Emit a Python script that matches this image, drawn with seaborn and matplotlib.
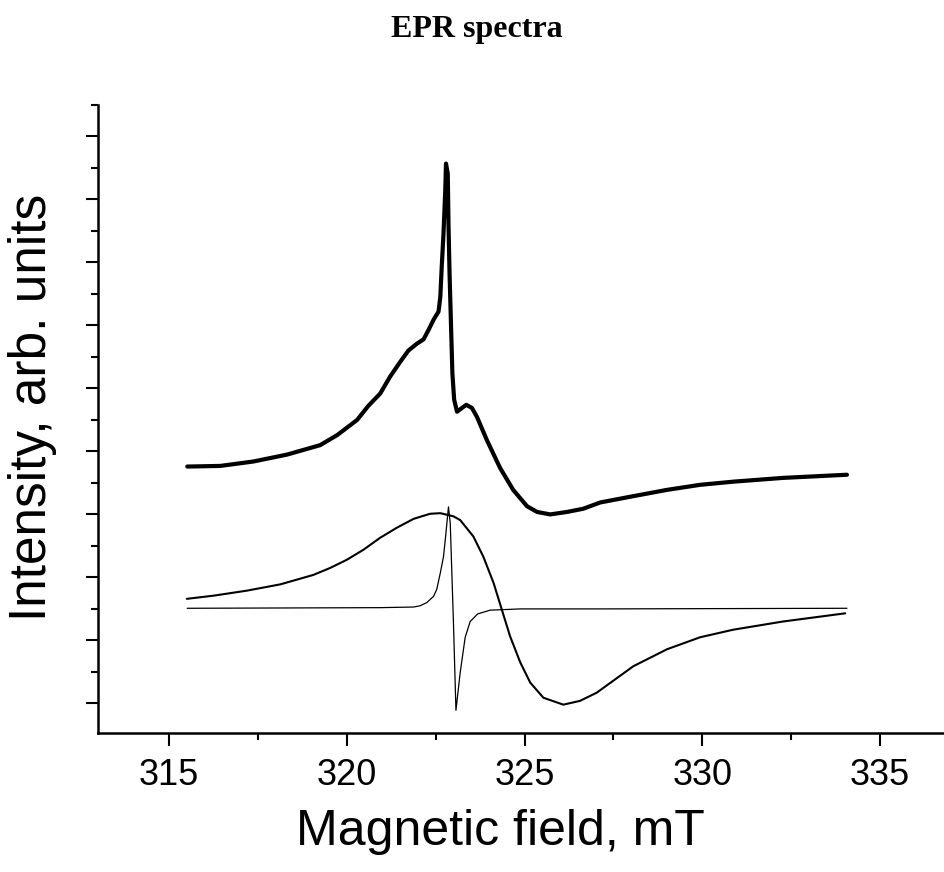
import numpy as np
import pandas as pd
import matplotlib
matplotlib.use("Agg")
import matplotlib.pyplot as plt
from matplotlib.ticker import MultipleLocator
import seaborn as sns

# ========================
# Data (field in mT, intensity in arb. units)
# ========================
# measured spectrum (thick top trace)
exp_field = [315.51, 316.44, 317.37, 318.32, 319.25, 319.73, 320.29, 320.60, 320.94,
             321.22, 321.50, 321.73, 321.97, 322.16, 322.30, 322.44, 322.58, 322.63,
             322.67, 322.72, 322.77, 322.79, 322.84, 322.86, 322.89, 322.93, 322.97,
             323.02, 323.10, 323.19, 323.36, 323.52, 323.66, 323.94, 324.31, 324.68,
             325.07, 325.35, 325.72, 326.20, 326.65, 327.13, 328.06, 329.01, 329.94,
             330.87, 332.27, 334.07]
exp_signal = [3.76, 3.77, 3.84, 3.95, 4.10, 4.26, 4.50, 4.72, 4.92,
              5.19, 5.42, 5.60, 5.71, 5.78, 5.93, 6.09, 6.22, 6.45,
              6.93, 7.46, 8.15, 8.57, 8.41, 7.62, 6.83, 6.03, 5.24,
              4.82, 4.63, 4.67, 4.74, 4.69, 4.55, 4.18, 3.74, 3.39,
              3.13, 3.04, 3.00, 3.04, 3.09, 3.19, 3.29, 3.39, 3.47,
              3.52, 3.58, 3.63]

# broad component
broad_field = [315.50, 316.25, 317.19, 318.13, 319.06, 319.53, 320.00, 320.47, 320.94,
               321.41, 321.88, 322.34, 322.63, 323.00, 323.19, 323.56, 323.84, 324.13,
               324.36, 324.59, 324.88, 325.16, 325.53, 326.09, 326.56, 327.03, 328.06,
               329.01, 329.94, 330.87, 332.27, 334.02]
broad_signal = [1.66, 1.71, 1.79, 1.89, 2.04, 2.15, 2.28, 2.44, 2.63,
                2.79, 2.93, 3.01, 3.02, 2.97, 2.91, 2.65, 2.33, 1.91,
                1.49, 1.07, 0.65, 0.33, 0.09, -0.02, 0.04, 0.17, 0.59,
                0.86, 1.05, 1.17, 1.30, 1.43]

# narrow component
narrow_field = [315.51, 320.94, 321.88, 322.06, 322.25, 322.44, 322.53, 322.63, 322.72,
                322.77, 322.86, 322.91, 323.00, 323.07, 323.19, 323.33, 323.47, 323.68,
                324.03, 324.88, 327.13, 334.07]
narrow_signal = [1.51, 1.52, 1.53, 1.55, 1.60, 1.70, 1.81, 2.07, 2.33,
                 2.60, 3.12, 2.86, 1.28, -0.11, 0.49, 1.05, 1.30, 1.42,
                 1.48, 1.50, 1.50, 1.51]

x_ticks = [315, 320, 325, 330, 335]

# ========================
# Plot
# ========================
sns.set_style("ticks")
plt.rcParams['font.family'] = ['Liberation Sans', 'DejaVu Sans']
plt.rcParams['text.color'] = 'black'
plt.rcParams['axes.labelcolor'] = 'black'
plt.rcParams['xtick.color'] = 'black'
plt.rcParams['ytick.color'] = 'black'

fig = plt.figure(figsize=(9.44, 8.72), dpi=100)
ax = fig.add_axes([0.1038, 0.1594, 0.8962, 0.7202])

sns.lineplot(x=exp_field, y=exp_signal, ax=ax, color="black", linewidth=3.0, estimator=None)
sns.lineplot(x=broad_field, y=broad_signal, ax=ax, color="black", linewidth=1.5, estimator=None)
sns.lineplot(x=narrow_field, y=narrow_signal, ax=ax, color="black", linewidth=0.9, estimator=None)

ax.set_xlim(313, 336.8)
ax.set_ylim(-0.47, 9.5)
ax.set_xticks(x_ticks)
ax.xaxis.set_minor_locator(MultipleLocator(2.5))
ax.yaxis.set_major_locator(MultipleLocator(1))
ax.yaxis.set_minor_locator(MultipleLocator(0.5))
ax.set_yticklabels([])

ax.tick_params(axis='both', which='major', direction='out', length=9, width=1.5, color='black')
ax.tick_params(axis='both', which='minor', direction='out', length=5, width=1.5, color='black')
ax.tick_params(axis='x', labelsize=26, pad=9)

for side in ['top', 'right']:
    ax.spines[side].set_visible(False)
for side in ['left', 'bottom']:
    ax.spines[side].set_linewidth(1.8)
    ax.spines[side].set_color('black')

ax.set_xlabel("Magnetic field, mT", fontsize=36)
ax.set_ylabel("Intensity, arb. units", fontsize=37)
ax.xaxis.set_label_coords(0.476, -0.121)
ax.yaxis.set_label_coords(-0.048, 0.519)

fig.text(0.505, 0.966, "EPR spectra", ha='center', va='center', fontsize=23,
         fontweight='bold', family=['Liberation Serif', 'DejaVu Serif'])

plt.savefig("out.png", dpi=100)
